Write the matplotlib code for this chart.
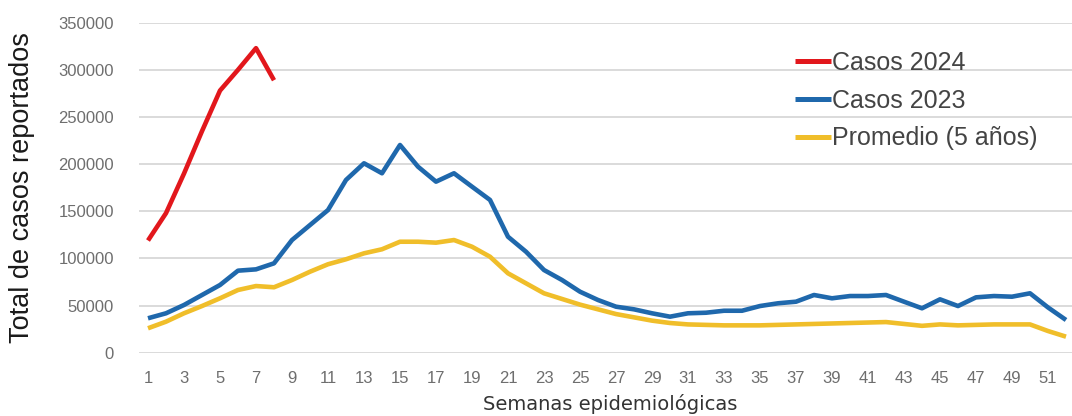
import matplotlib
matplotlib.use("Agg")
import matplotlib.pyplot as plt
import numpy as np

# Epidemiological weeks and weekly reported cases
weeks = list(range(1, 53))
weeks_2024 = list(range(1, 9))

casos_2024 = [119000, 148000, 190000, 235000, 278000, 300000, 323000, 289000]

casos_2023 = [36500, 41800, 50600, 61200, 71800, 87000, 88400, 94800, 119500, 135400,
              151300, 183200, 200900, 190300, 220300, 197300, 181400, 190300, 176100, 162000,
              123000, 107100, 87700, 77100, 64700, 55900, 48800, 46000, 41800, 38200,
              41800, 42400, 44500, 44500, 49500, 52400, 54100, 61200, 57700, 60100,
              60100, 61200, 54100, 47100, 56600, 49500, 58700, 60100, 59400, 63000,
              48000, 34700]

promedio_5 = [25900, 32900, 41800, 49500, 57700, 66500, 70700, 69400, 77100, 85900,
              93800, 99100, 105400, 109700, 117700, 117700, 116700, 119500, 112400, 101800,
              84200, 73600, 63000, 57000, 51000, 46000, 41000, 37500, 34000, 31500,
              30000, 29500, 29000, 29000, 29000, 29500, 30000, 30500, 31000, 31500,
              32000, 32500, 30500, 28500, 30000, 29000, 29500, 30000, 30000, 30000,
              23000, 17000]

y_ticks = [0, 50000, 100000, 150000, 200000, 250000, 300000, 350000]
x_ticks = list(range(1, 52, 2))

series_labels = ["Casos 2024", "Casos 2023", "Promedio (5 años)"]
colors = ["#E2171C", "#1F68AC", "#F0BE2A"]

W, H = 1072, 416
fig = plt.figure(figsize=(W / 100, H / 100), dpi=100)
ax = fig.add_axes([139 / W, (H - 352.7) / H, (1075 - 139) / W, (352.7 - 22.7) / H])

font = "Liberation Sans"

lw = 3.3
ax.plot(weeks_2024, casos_2024, color=colors[0], lw=lw, solid_joinstyle="round",
        solid_capstyle="butt", label=series_labels[0], zorder=4)
ax.plot(weeks, casos_2023, color=colors[1], lw=lw, solid_joinstyle="round",
        solid_capstyle="butt", label=series_labels[1], zorder=3)
ax.plot(weeks, promedio_5, color=colors[2], lw=lw, solid_joinstyle="round",
        solid_capstyle="butt", label=series_labels[2], zorder=2)

ax.set_xlim(0.5, 52.5)
ax.set_ylim(0, 350000)
ax.set_yticks(y_ticks)
ax.set_yticklabels([str(v) for v in y_ticks], fontfamily=font, fontsize=12, color="#6E6E6E")
ax.set_xticks(x_ticks)
ax.set_xticklabels([str(v) for v in x_ticks], fontfamily=font, fontsize=12, color="#6E6E6E")
ax.tick_params(axis="both", length=0)
ax.tick_params(axis="y", pad=18)
ax.tick_params(axis="x", pad=13)

ax.grid(axis="y", color="#DADADA", lw=1.4)
ax.set_axisbelow(True)
for s in ax.spines.values():
    s.set_visible(False)

fig.text(22 / W, 1 - 188 / H, "Total de casos reportados", rotation=90,
         ha="center", va="center", fontfamily=font, fontsize=19.5, color="#1a1a1a")
fig.text(610 / W, 1 - 404 / H, "Semanas epidemiológicas", ha="center", va="center",
         fontfamily="DejaVu Sans", fontsize=14, color="#333333")

leg = ax.legend(loc="upper left", bbox_to_anchor=(795 / W, 1 - 51 / H),
                bbox_transform=fig.transFigure, frameon=False,
                prop={"family": font, "size": 18}, handlelength=1.45,
                handletextpad=0.02, labelspacing=0.55, borderpad=0, borderaxespad=0)
for t in leg.get_texts():
    t.set_color("#444444")
for h in leg.get_lines():
    h.set_linewidth(3.6)

fig.savefig("out.png", dpi=100, facecolor="white")
